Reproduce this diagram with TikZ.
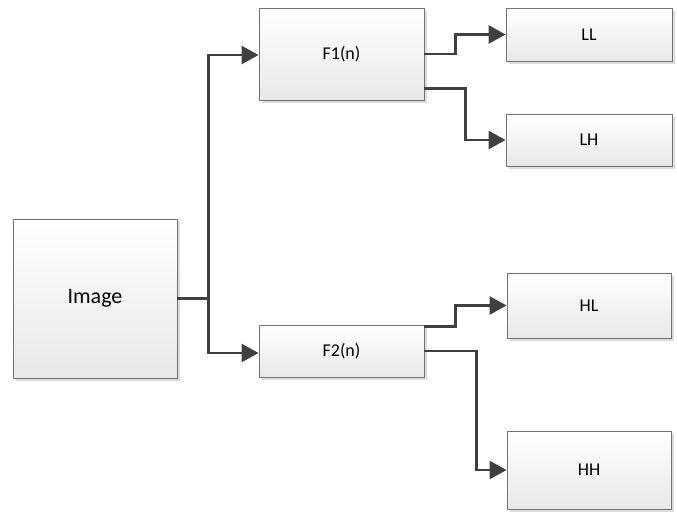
\documentclass[tikz,border=0pt]{standalone}
\usepackage{fontspec}
\setmainfont{Carlito}
\usepackage{tikz}
\usetikzlibrary{arrows.meta,shadows}

\begin{document}
\begin{tikzpicture}[x=1pt,y=-1pt,
    >={Triangle[length=17pt,width=18pt]},
    blk/.style={draw=black!55, line width=0.8pt, top color=white, bottom color=black!9,
      drop shadow={shadow xshift=3pt, shadow yshift=-3pt, fill=black!14, opacity=1},
      inner sep=0pt, font=\fontsize{18}{20}\selectfont},
    wire/.style={draw=black!75, line width=2.6pt, line join=miter}]

  \useasboundingbox (0,0) rectangle (677,512);

  \node[blk, minimum width=164pt, minimum height=159pt, font=\fontsize{22}{24}\selectfont] (img) at (95,298.5) {Image};
  \node[blk, minimum width=165pt, minimum height=92pt] (f1) at (341.5,54) {F1(n)};
  \node[blk, minimum width=165pt, minimum height=52pt] (f2) at (341.5,351) {F2(n)};
  \node[blk, minimum width=166pt, minimum height=53pt] (ll) at (589,34.5) {LL};
  \node[blk, minimum width=166pt, minimum height=52pt] (lh) at (589,140) {LH};
  \node[blk, minimum width=164pt, minimum height=65pt] (hl) at (589,305.5) {HL};
  \node[blk, minimum width=164pt, minimum height=78pt] (hh) at (589,470) {HH};

  \draw[wire,->] (img.east) -- ++(31,0) |- ([yshift=-1pt]f1.west);
  \draw[wire,->] (img.east) -- ++(31,0) |- ([yshift=-2pt]f2.west);

  \draw[wire,->] (f1.east) -- ++(31,0) |- (ll.west);
  \draw[wire,->] ([yshift=12pt]f1.south east) -- ++(41,0) |- (lh.west);

  \draw[wire,->] ([yshift=-2pt]f2.north east) -- ++(31,0) |- (hl.west);
  \draw[wire,->] (f2.east) -- ++(52,0) |- (hh.west);

\end{tikzpicture}
\end{document}
